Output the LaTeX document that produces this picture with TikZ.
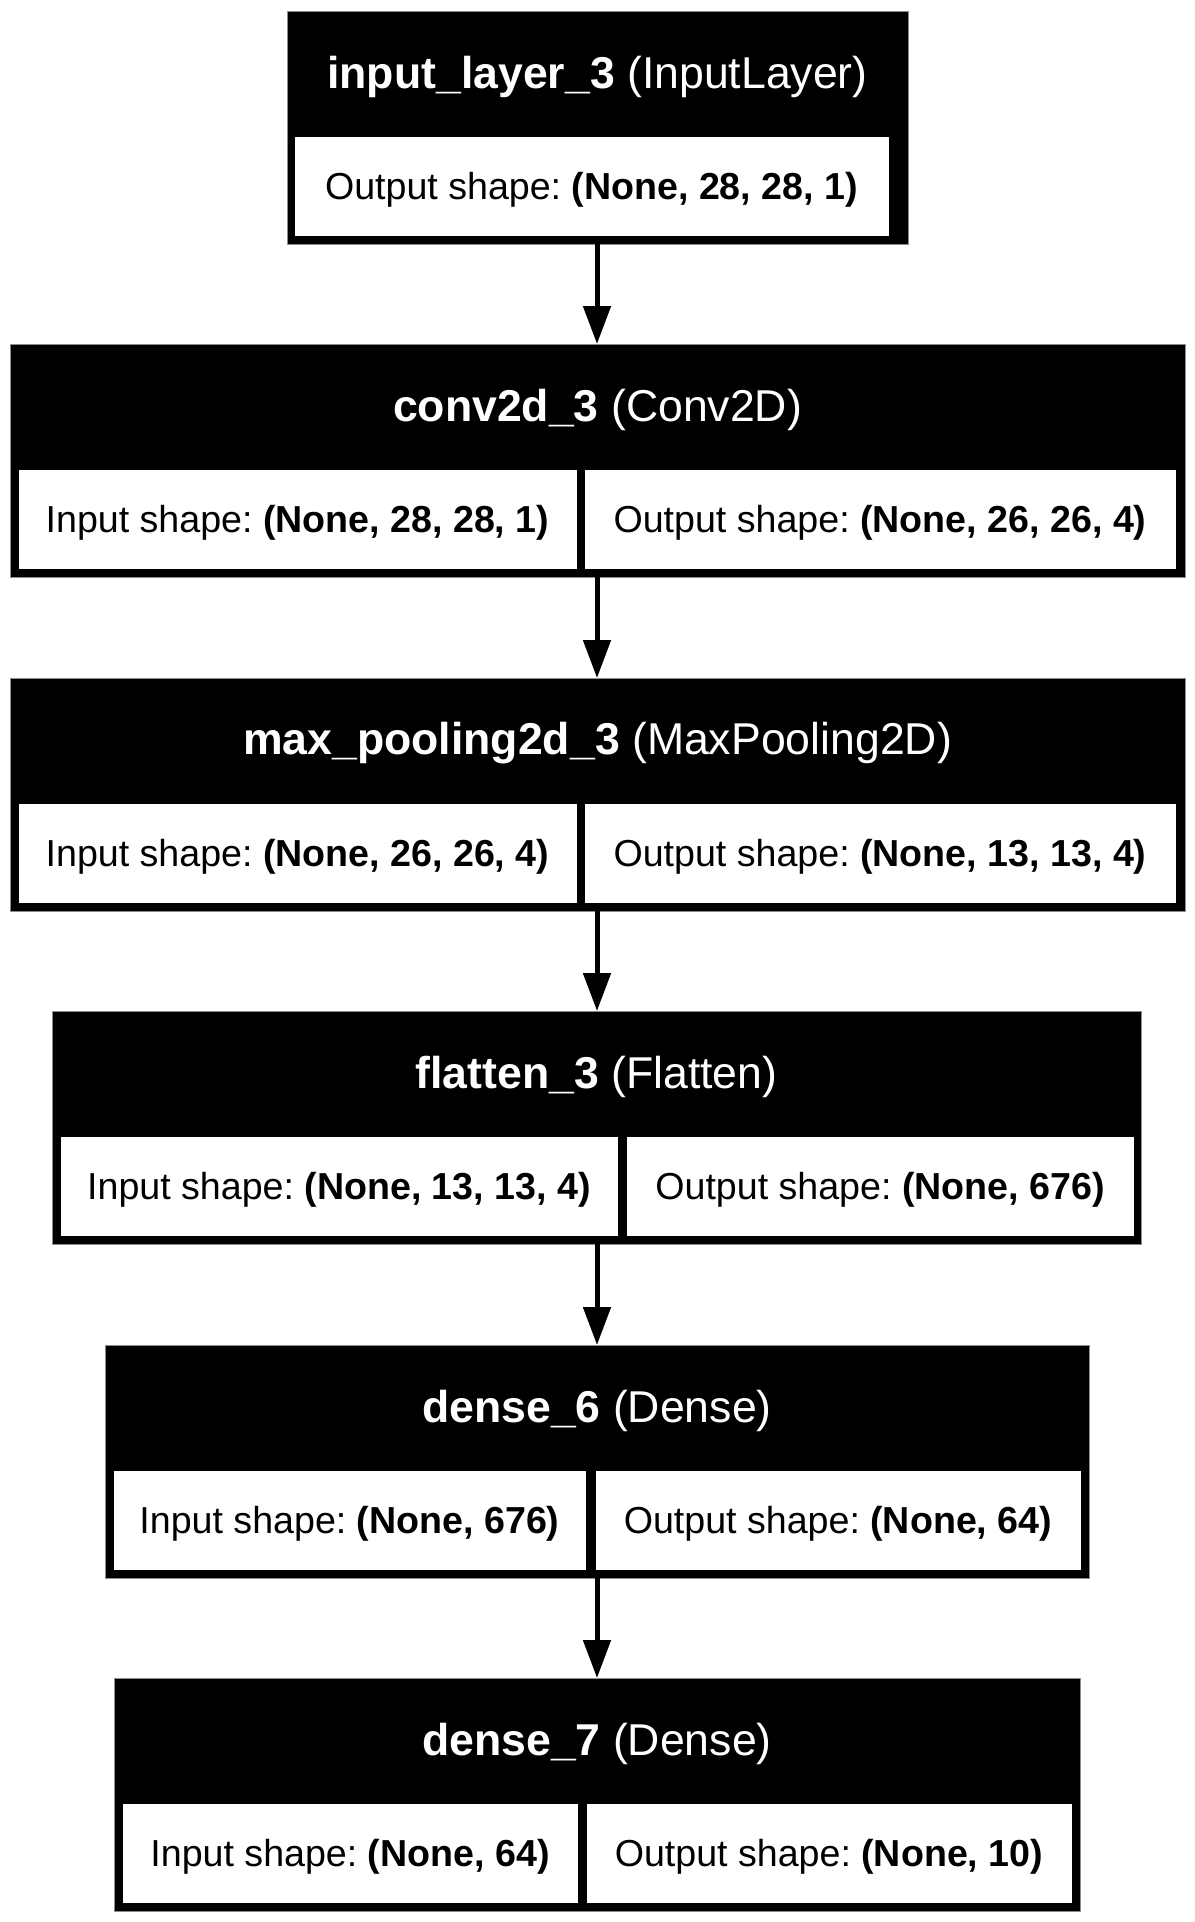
\documentclass[tikz,border=0pt]{standalone}
\usepackage{fontspec}
\setmainfont{Liberation Sans}
\frenchspacing
\usetikzlibrary{arrows.meta,fit}
\tikzset{
 layerbox/.style={fill=black, draw=black!45, line width=0.4pt, inner sep=0pt, outer sep=0pt},
 cellbox/.style={fill=white, draw=black, line width=0.4pt, inner sep=0pt, outer sep=0pt},
 headtxt/.style={text=white, font=\fontsize{22.3}{26}\selectfont, inner sep=0pt, yshift=-1.5pt},
 celltxt/.style={text=black, font=\fontsize{18.8}{22}\selectfont, inner sep=0pt, yshift=-1.8pt},
 flow/.style={line width=2.5pt, -{Triangle[length=19pt,width=13.5pt]}},
}
\begin{document}
\begin{tikzpicture}[x=0.5pt,y=-0.5pt]
\useasboundingbox[fill=white] (0,0) rectangle (1194,1922);

% ---- input_layer_3
\node[layerbox, fit={(287,11)(908,244)}] (b1) {};
\node[cellbox, fit={(294,136)(889,236)}] (b1o) {};
\node[headtxt] (b1t) at (597.5,73.5) {\textbf{input\_layer\_3} (InputLayer)};
\node[celltxt] (b1ot) at (b1o.center) {Output shape: \textbf{(None, 28, 28, 1)}};

% ---- conv2d_3
\node[layerbox, fit={(10,344)(1185,577)}] (b2) {};
\node[cellbox, fit={(18,469)(577,569)}] (b2i) {};
\node[cellbox, fit={(584,469)(1176,569)}] (b2o) {};
\node[headtxt] (b2t) at (597.5,406.5) {\textbf{conv2d\_3} (Conv2D)};
\node[celltxt] (b2it) at (b2i.center) {Input shape: \textbf{(None, 28, 28, 1)}};
\node[celltxt] (b2ot) at (b2o.center) {Output shape: \textbf{(None, 26, 26, 4)}};

% ---- max_pooling2d_3
\node[layerbox, fit={(10,678)(1185,911)}] (b3) {};
\node[cellbox, fit={(18,803)(577,903)}] (b3i) {};
\node[cellbox, fit={(584,803)(1176,903)}] (b3o) {};
\node[headtxt] (b3t) at (597.5,740.5) {\textbf{max\_pooling2d\_3} (MaxPooling2D)};
\node[celltxt] (b3it) at (b3i.center) {Input shape: \textbf{(None, 26, 26, 4)}};
\node[celltxt] (b3ot) at (b3o.center) {Output shape: \textbf{(None, 13, 13, 4)}};

% ---- flatten_3
\node[layerbox, fit={(52,1011)(1141,1244)}] (b4) {};
\node[cellbox, fit={(60,1136)(618,1236)}] (b4i) {};
\node[cellbox, fit={(626,1136)(1134,1236)}] (b4o) {};
\node[headtxt] (b4t) at (596.5,1073.5) {\textbf{flatten\_3} (Flatten)};
\node[celltxt] (b4it) at (b4i.center) {Input shape: \textbf{(None, 13, 13, 4)}};
\node[celltxt] (b4ot) at (b4o.center) {Output shape: \textbf{(None, 676)}};

% ---- dense_6
\node[layerbox, fit={(105,1345)(1089,1578)}] (b5) {};
\node[cellbox, fit={(113,1470)(586,1570)}] (b5i) {};
\node[cellbox, fit={(595,1470)(1081,1570)}] (b5o) {};
\node[headtxt] (b5t) at (597,1407.5) {\textbf{dense\_6} (Dense)};
\node[celltxt] (b5it) at (b5i.center) {Input shape: \textbf{(None, 676)}};
\node[celltxt] (b5ot) at (b5o.center) {Output shape: \textbf{(None, 64)}};

% ---- dense_7
\node[layerbox, fit={(114,1678)(1080,1911)}] (b6) {};
\node[cellbox, fit={(122,1803)(578,1903)}] (b6i) {};
\node[cellbox, fit={(586,1803)(1072,1903)}] (b6o) {};
\node[headtxt] (b6t) at (597,1740.5) {\textbf{dense\_7} (Dense)};
\node[celltxt] (b6it) at (b6i.center) {Input shape: \textbf{(None, 64)}};
\node[celltxt] (b6ot) at (b6o.center) {Output shape: \textbf{(None, 10)}};

% ---- connectors
\coordinate (ax) at (597,0);
\draw[flow] (ax |- b1.south) -- (ax |- b2.north);
\draw[flow] (ax |- b2.south) -- (ax |- b3.north);
\draw[flow] (ax |- b3.south) -- (ax |- b4.north);
\draw[flow] (ax |- b4.south) -- (ax |- b5.north);
\draw[flow] (ax |- b5.south) -- (ax |- b6.north);
\end{tikzpicture}
\end{document}
